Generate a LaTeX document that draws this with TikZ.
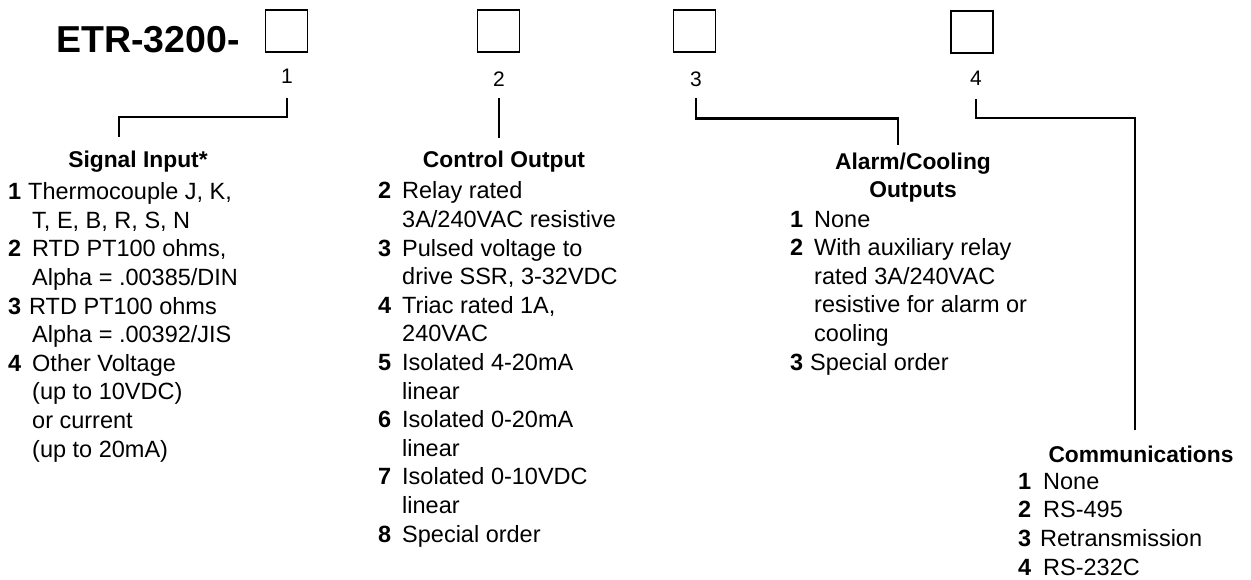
\documentclass[tikz,border=0pt]{standalone}
\usepackage{fontspec}
\setmainfont{Liberation Sans}
\newcommand\itm[2][24pt]{\makebox[#1][l]{\textbf{#2}}}
\newcommand\cont{\hspace*{24pt}}
\tikzset{
  model/.style={font=\bfseries\fontsize{37.5}{40}\selectfont,inner sep=0pt,anchor=base west},
  slot/.style={draw,line width=1.3pt,minimum size=42pt,inner sep=0pt},
  digit/.style={font=\fontsize{21}{25}\selectfont,inner sep=0pt,anchor=base},
  head/.style={font=\bfseries\fontsize{22.8}{28}\selectfont,align=center,inner sep=0pt,anchor=base},
  optlist/.style={font=\fontsize{23.5}{28.6}\selectfont,align=left,inner sep=0pt,anchor=base west},
  lead/.style={line width=2.6pt}
}
\begin{document}
\begin{tikzpicture}[x=1pt,y=-1pt]
  \useasboundingbox (0,0) rectangle (1251,580);
  \node[model] (title) at (56,53) {ETR-3200-};
  \node[slot] (box1) at (286.5,31) {};
  \node[slot] (box2) at (498.5,31) {};
  \node[slot] (box3) at (694.5,31) {};
  \node[slot] (box4) at (972,32) {};
  \node[digit] (num1) at (287,84) {1};
  \node[digit] (num2) at (499,87) {2};
  \node[digit] (num3) at (696,87) {3};
  \node[digit] (num4) at (976,86) {4};
  % multi-line nodes sit on the baseline of their last line
  \node[head] (sighead) at (138,168) {Signal Input*};
  \node[head] (ctlhead) at (504,168) {Control Output};
  \node[head] (almhead) at (913,198) {Alarm/Cooling\\Outputs};
  \node[head] (comhead) at (1141,462) {Communications};
  \node[optlist] (siglist) at (8,457) {\itm[20pt]{1}Thermocouple J, K,\\
    \cont T, E, B, R, S, N\\
    \itm{2}RTD PT100 ohms,\\
    \cont Alpha = .00385/DIN\\
    \itm[21pt]{3}RTD PT100 ohms\\
    \cont Alpha = .00392/JIS\\
    \itm{4}Other Voltage\\
    \cont (up to 10VDC)\\
    \cont or current\\
    \cont (up to 20mA)};
  \node[optlist] (ctllist) at (378,542) {\itm{2}Relay rated\\
    \cont 3A/240VAC resistive\\
    \itm{3}Pulsed voltage to\\
    \cont drive SSR, 3-32VDC\\
    \itm{4}Triac rated 1A,\\
    \cont 240VAC\\
    \itm{5}Isolated 4-20mA\\
    \cont linear\\
    \itm{6}Isolated 0-20mA\\
    \cont linear\\
    \itm{7}Isolated 0-10VDC\\
    \cont linear\\
    \itm{8}Special order};
  \node[optlist] (almlist) at (790,370) {\itm{1}None\\
    \itm{2}With auxiliary relay\\
    \cont rated 3A/240VAC\\
    \cont resistive for alarm or\\
    \cont cooling\\
    \itm[20pt]{3}Special order};
  \node[optlist] (comlist) at (1018,575) {\itm[25pt]{1}None\\
    \itm[25pt]{2}RS-495\\
    \itm[22pt]{3}Retransmission\\
    \itm[25pt]{4}RS-232C};
  % ends of the leads above the headings
  \coordinate (k1) at (119,137);
  \coordinate (k2) at (499,138);
  \coordinate (k3) at (898,145);
  \coordinate (k4) at (1135,430);
  \draw[lead] ([yshift=-14pt]num1.south) -- ++(0,19) -| (k1);
  \draw[lead] ([yshift=-11pt]num2.south) -- (k2);
  \draw[lead] ([yshift=-11pt]num3.south) -- ++(0,20) -| (k3);
  \draw[lead] ([yshift=-13pt]num4.south) -- ++(0,19) -| (k4);
\end{tikzpicture}
\end{document}
